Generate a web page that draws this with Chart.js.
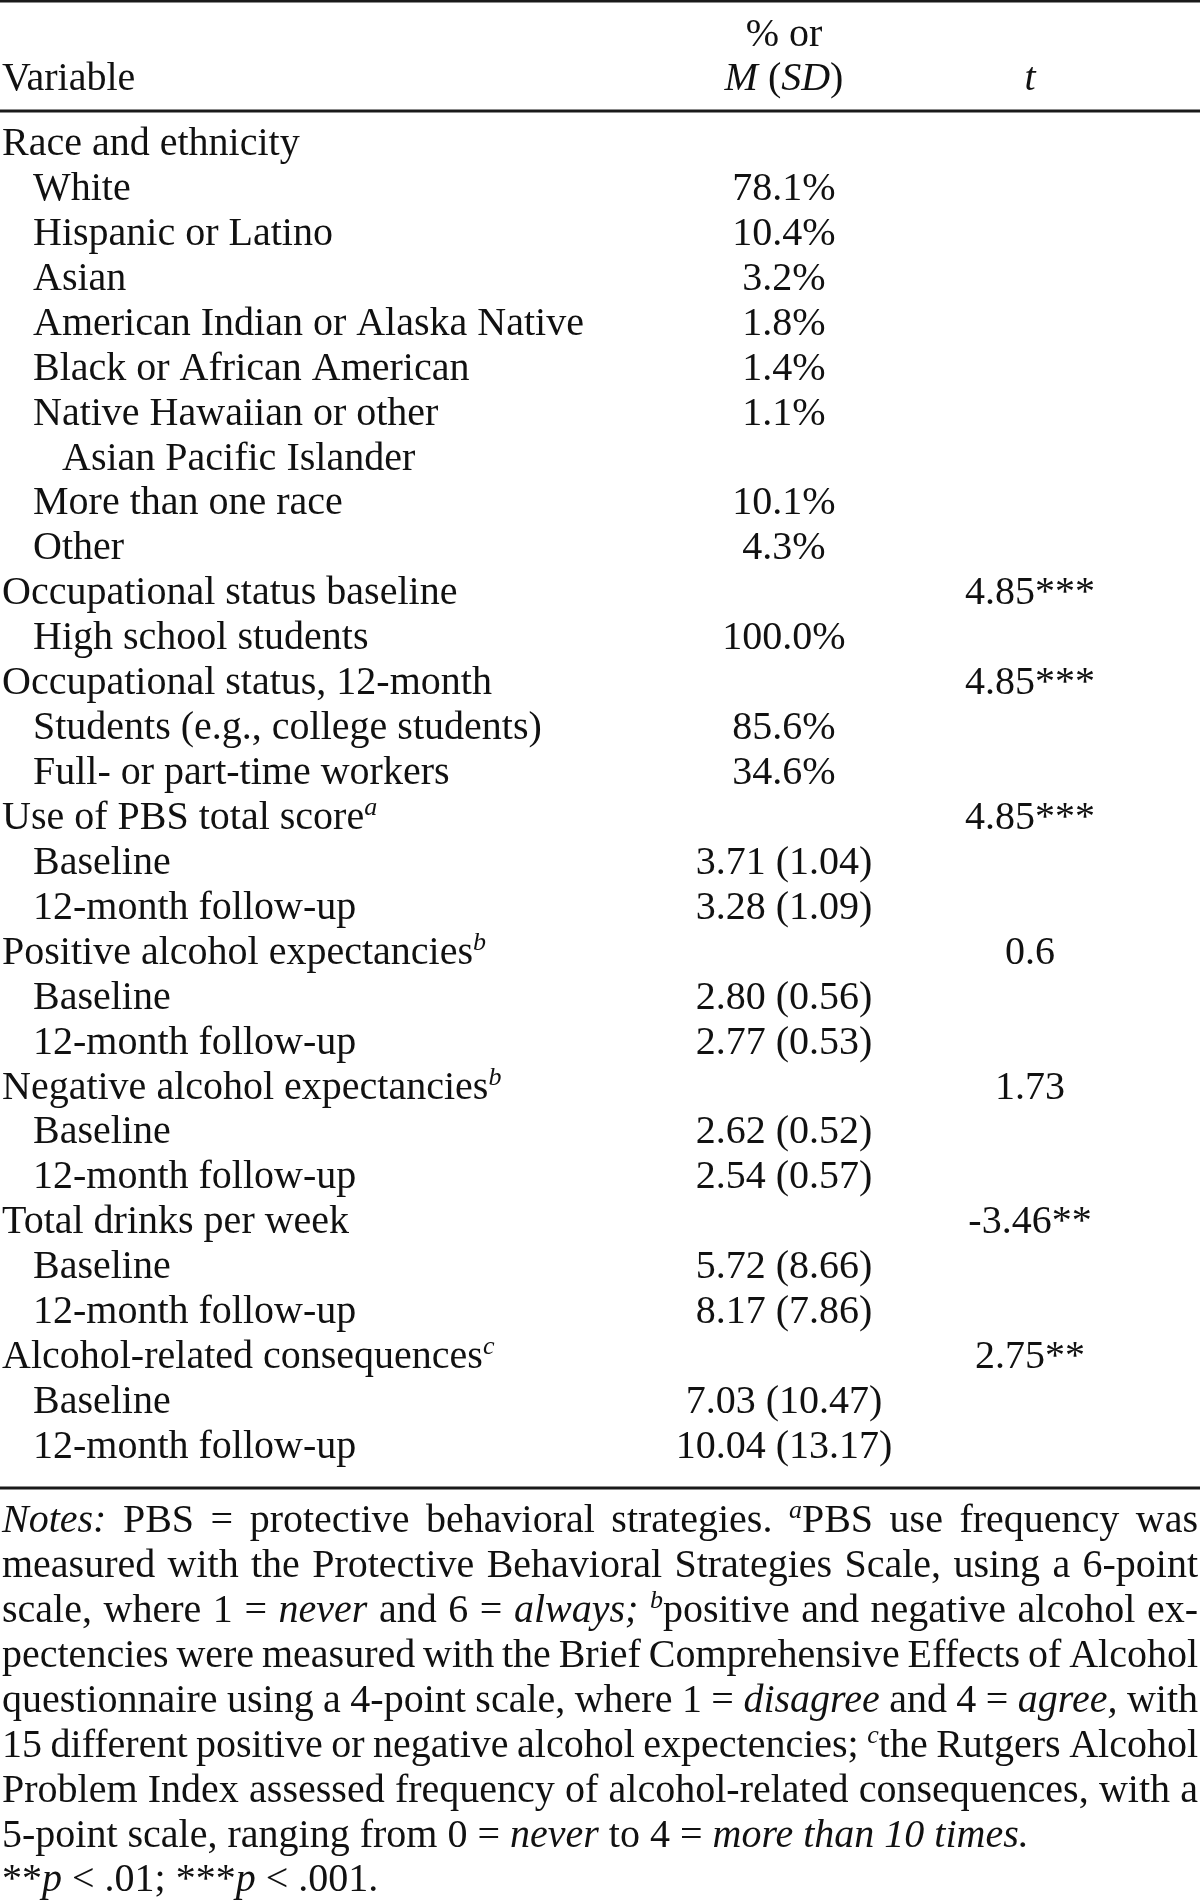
<!DOCTYPE html>
<html>
<head>
<meta charset="utf-8">
<script src="https://cdn.jsdelivr.net/npm/chart.js@4.4.1/dist/chart.umd.min.js"></script>
<style>
  html, body { margin: 0; padding: 0; background: #fff; }
  #wrap { width: 1200px; height: 1902px; position: relative; }
</style>
</head>
<body>
<div id="wrap"><canvas id="tablaChart"></canvas></div>
<script>
// filas de la tabla
const rowLabels = [
    'Race and ethnicity', 'White', 'Hispanic or Latino', 'Asian',
    'American Indian or Alaska Native', 'Black or African American',
    'Native Hawaiian or other', 'Asian Pacific Islander', 'More than one race', 'Other',
    'Occupational status baseline', 'High school students',
    'Occupational status, 12-month', 'Students (e.g., college students)', 'Full- or part-time workers',
    'Use of PBS total score', 'Baseline', '12-month follow-up',
    'Positive alcohol expectancies', 'Baseline', '12-month follow-up',
    'Negative alcohol expectancies', 'Baseline', '12-month follow-up',
    'Total drinks per week', 'Baseline', '12-month follow-up',
    'Alcohol-related consequences', 'Baseline', '12-month follow-up'
];
const rowLevel = [0, 1, 1, 1, 1, 1, 1, 2, 1, 1, 0, 1, 0, 1, 1, 0, 1, 1, 0, 1, 1, 0, 1, 1, 0, 1, 1, 0, 1, 1];
const rowNote = ['', '', '', '', '', '', '', '', '', '', '', '', '', '', '', 'a', '', '', 'b', '', '', 'b', '', '', '', '', '', 'c', '', ''];

const pctOrMean = [
    '', '78.1%', '10.4%', '3.2%', '1.8%', '1.4%', '1.1%', '', '10.1%', '4.3%',
    '', '100.0%', '', '85.6%', '34.6%',
    '', '3.71 (1.04)', '3.28 (1.09)',
    '', '2.80 (0.56)', '2.77 (0.53)',
    '', '2.62 (0.52)', '2.54 (0.57)',
    '', '5.72 (8.66)', '8.17 (7.86)',
    '', '7.03 (10.47)', '10.04 (13.17)'
];
const tValues = [
    '', '', '', '', '', '', '', '', '', '',
    '4.85***', '', '4.85***', '', '',
    '4.85***', '', '',
    '0.6', '', '',
    '1.73', '', '',
    '-3.46**', '', '',
    '2.75**', '', ''
];

const headerTop = ['', '% or', ''];
const headerBottom = ['Variable', '_M_ (_SD_)', '_t_'];

// _cursiva_ y ^superindice^
const noteLines = [
    '_Notes:_ PBS = protective behavioral strategies. ^a^PBS use frequency was',
    'measured with the Protective Behavioral Strategies Scale, using a 6-point',
    'scale, where 1 = _never_ and 6 = _always;_ ^b^positive and negative alcohol ex-',
    'pectencies were measured with the Brief Comprehensive Effects of Alcohol',
    'questionnaire using a 4-point scale, where 1 = _disagree_ and 4 = _agree,_ with',
    '15 different positive or negative alcohol expectencies; ^c^the Rutgers Alcohol',
    'Problem Index assessed frequency of alcohol-related consequences, with a',
    '5-point scale, ranging from 0 = _never_ to 4 = _more than 10 times._',
    '**_p_ < .01; ***_p_ < .001.'
];
const noteJustified = [true, true, true, true, true, true, true, false, false];

// estilo
const FONT = '"Liberation Serif", "Times New Roman", serif';
const SIZE = 40;
const SUP = 26;
const INK = '#111';
const colX = { variable: 0, mean: 784, t: 1030 };
const indentPx = [2, 33, 62];

function parseRich(str) {
    const words = [];
    let word = [];
    let italic = false, sup = false;
    let run = { text: '', i: false, s: false };
    const pushRun = () => {
        if (run.text) word.push(run);
        run = { text: '', i: italic, s: sup };
    };
    for (const ch of str) {
        if (ch === '_') { pushRun(); italic = !italic; run.i = italic; }
        else if (ch === '^') { pushRun(); sup = !sup; run.s = sup; }
        else if (ch === ' ') { pushRun(); if (word.length) words.push(word); word = []; }
        else run.text += ch;
    }
    pushRun();
    if (word.length) words.push(word);
    return words;
}

function setFont(ctx, run) {
    ctx.font = (run.i || run.s ? 'italic ' : '') + (run.s ? SUP : SIZE) + 'px ' + FONT;
}

function wordWidth(ctx, word) {
    let w = 0;
    word.forEach(run => { setFont(ctx, run); w += ctx.measureText(run.text).width; });
    return w;
}

function drawRich(ctx, str, x, y, align, justifyTo) {
    const words = parseRich(str);
    ctx.font = SIZE + 'px ' + FONT;
    const space = ctx.measureText(' ').width;
    const widths = words.map(w => wordWidth(ctx, w));
    const total = widths.reduce((a, b) => a + b, 0);
    let gap = space;
    if (justifyTo && words.length > 1) gap = (justifyTo - total) / (words.length - 1);
    const full = total + gap * (words.length - 1);
    let cx = x;
    if (align === 'center') cx = x - full / 2;
    ctx.textAlign = 'left';
    ctx.textBaseline = 'alphabetic';
    words.forEach(word => {
        word.forEach(run => {
            setFont(ctx, run);
            ctx.fillText(run.text, cx, run.s ? y - 14 : y);
            cx += ctx.measureText(run.text).width;
        });
        cx += gap;
    });
}

function columnData(values, x) {
    const data = [];
    values.forEach((v, i) => { if (v) data.push({ x: x, y: i, label: v }); });
    return data;
}

const tablePlugin = {
    id: 'tablePlugin',
    afterDatasetsDraw(chart) {
        const ctx = chart.ctx;
        const xs = chart.scales.x;
        const ys = chart.scales.y;
        const y0 = ys.getPixelForValue(0);
        const yLast = ys.getPixelForValue(rowLabels.length - 1);
        const step = (yLast - y0) / (rowLabels.length - 1);
        ctx.save();
        ctx.fillStyle = INK;
        ctx.strokeStyle = '#1a1a1a';

        // lineas horizontales
        const rule = (y, w) => {
            ctx.lineWidth = w;
            ctx.beginPath();
            ctx.moveTo(xs.getPixelForValue(0), y);
            ctx.lineTo(xs.getPixelForValue(1200), y);
            ctx.stroke();
        };
        rule(1.2, 2.4);
        rule(y0 - 44, 3);
        rule(yLast + 30, 3);

        // encabezado
        const cols = [colX.variable, colX.mean, colX.t];
        cols.forEach((cx, k) => {
            const px = xs.getPixelForValue(cx);
            if (headerTop[k]) drawRich(ctx, headerTop[k], px, y0 - 109, 'center');
            if (k === 0) drawRich(ctx, headerBottom[k], px + indentPx[0], y0 - 65, 'left');
            else drawRich(ctx, headerBottom[k], px, y0 - 65, 'center');
        });

        // celdas
        chart.data.datasets.forEach((ds, d) => {
            const meta = chart.getDatasetMeta(d);
            meta.data.forEach((pt, j) => {
                const item = ds.data[j];
                if (d === 0) {
                    const txt = item.label + (rowNote[item.y] ? '^' + rowNote[item.y] + '^' : '');
                    drawRich(ctx, txt, pt.x + indentPx[rowLevel[item.y]], pt.y, 'left');
                } else {
                    drawRich(ctx, item.label, pt.x, pt.y, 'center');
                }
            });
        });

        // notas
        const left = xs.getPixelForValue(2);
        const right = xs.getPixelForValue(1198);
        noteLines.forEach((line, k) => {
            const y = yLast + 74 + k * step;
            drawRich(ctx, line, left, y, 'left', noteJustified[k] ? right - left : null);
        });
        ctx.restore();
    }
};

function crearTabla() {
    const ctx = document.getElementById('tablaChart').getContext('2d');
    new Chart(ctx, {
        type: 'line',
        data: {
            datasets: [
                { label: 'Variable', data: columnData(rowLabels, colX.variable) },
                { label: '% or M (SD)', data: columnData(pctOrMean, colX.mean) },
                { label: 't', data: columnData(tValues, colX.t) }
            ]
        },
        options: {
            responsive: true,
            maintainAspectRatio: false,
            animation: false,
            showLine: false,
            elements: { point: { radius: 0, hoverRadius: 0 }, line: { borderWidth: 0 } },
            layout: { autoPadding: false, padding: { top: 155, bottom: 444, left: 0, right: 0 } },
            scales: {
                x: { type: 'linear', min: 0, max: 1200, display: false },
                y: { type: 'linear', min: 0, max: rowLabels.length - 1, reverse: true, display: false }
            },
            plugins: {
                legend: { display: false },
                tooltip: { enabled: false },
                title: { display: false }
            },
            events: []
        },
        plugins: [tablePlugin]
    });
}

crearTabla();
</script>
</body>
</html>
